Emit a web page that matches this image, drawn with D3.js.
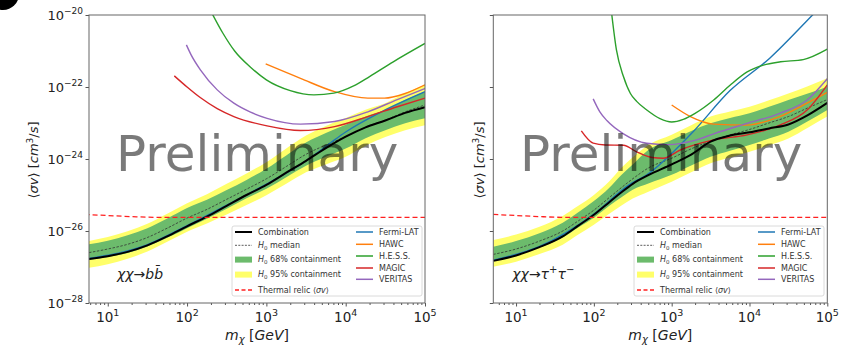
<!DOCTYPE html>
<html>
<head>
<meta charset="UTF-8">
<style>
  body { margin: 0; background: #fff; }
  text { font-family: "DejaVu Sans", sans-serif; }
</style>
</head>
<body>
<script src="https://d3js.org/d3.v7.min.js"></script>
<script>

// ---- data ----
// b bbar channel, common mass grid for the combination and the H0 bands
const bbMass = [5.8, 10, 17.8, 31.6, 56.2, 100, 178, 316, 562, 1000, 1780, 3160, 5620, 1e4, 1.78e4, 3.16e4, 5.62e4, 1e5];
const bbCombination = [1.66e-27, 2.0e-27, 2.63e-27, 3.98e-27, 7.08e-27, 1.35e-26, 2.51e-26, 5.01e-26, 1.0e-25, 1.91e-25, 4.17e-25, 8.91e-25, 2.0e-24, 4.17e-24, 7.59e-24, 1.17e-23, 1.91e-23, 2.75e-23];
const bbMedian = [2.51e-27, 3.16e-27, 4.27e-27, 6.61e-27, 1.2e-26, 2.29e-26, 3.98e-26, 7.59e-26, 1.45e-25, 2.82e-25, 6.17e-25, 1.35e-24, 2.45e-24, 4.17e-24, 7.59e-24, 1.2e-23, 2.04e-23, 3.16e-23];
const bb68Upper = [4.27e-27, 5.37e-27, 7.59e-27, 1.2e-26, 2.24e-26, 4.37e-26, 7.41e-26, 1.38e-25, 2.63e-25, 5.37e-25, 1.26e-24, 2.88e-24, 5.25e-24, 8.91e-24, 1.51e-23, 2.29e-23, 4.37e-23, 7.41e-23];
const bb68Lower = [1.58e-27, 1.91e-27, 2.45e-27, 3.72e-27, 6.46e-27, 1.2e-26, 2.19e-26, 4.17e-26, 8.13e-26, 1.48e-25, 3.09e-25, 6.46e-25, 1.15e-24, 1.95e-24, 3.8e-24, 6.31e-24, 9.77e-24, 1.35e-23];
const bb95Upper = [5.25e-27, 6.76e-27, 9.77e-27, 1.58e-26, 3.02e-26, 5.89e-26, 1.05e-25, 2.04e-25, 3.98e-25, 8.13e-25, 1.95e-24, 4.47e-24, 8.32e-24, 1.38e-23, 2.34e-23, 3.55e-23, 6.76e-23, 1.15e-22];
const bb95Lower = [9.55e-28, 1.2e-27, 1.7e-27, 2.69e-27, 5.01e-27, 9.55e-27, 1.62e-26, 2.88e-26, 5.25e-26, 9.77e-26, 2.04e-25, 4.27e-25, 7.08e-25, 1.15e-24, 2.34e-24, 4.07e-24, 6.31e-24, 8.71e-24];

const bbFermiMass = [5.8, 31.6, 100, 316, 1000, 3160, 6460, 1e4, 2.82e4, 1e5];
const bbFermi = [1.74e-27, 4.17e-27, 1.41e-26, 5.25e-26, 2.0e-25, 8.91e-25, 2.82e-24, 5.62e-24, 2.04e-23, 7.41e-23];
const bbHawcMass = [980, 2690, 7240, 1.9e4, 3.09e4, 5.62e4, 1e5];
const bbHawc = [4.37e-22, 1.74e-22, 7.41e-23, 4.9e-23, 4.9e-23, 6.61e-23, 1.15e-22];
const bbHessMass = [200, 282, 398, 631, 1000, 2000, 3980, 7080, 1.26e4, 2.0e4, 3.98e4, 1e5];
const bbHess = [1.26e-20, 3.16e-21, 1e-21, 3.55e-22, 1.58e-22, 7.94e-23, 6.03e-23, 6.76e-23, 1.07e-22, 1.95e-22, 5.01e-22, 1.62e-21];
const bbMagicMass = [69, 100, 148, 240, 389, 1020, 2690, 7240, 1.9e4, 4.47e4, 1e5];
const bbMagic = [2.04e-22, 1.0e-22, 5.01e-23, 2.51e-23, 1.51e-23, 8.32e-24, 6.17e-24, 7.94e-24, 1.51e-23, 2.82e-23, 4.9e-23];
const bbVeritasMass = [98, 112, 148, 240, 389, 631, 1020, 2690, 7240, 1.9e4, 4.47e4, 1e5];
const bbVeritas = [1.48e-21, 7.94e-22, 2.95e-22, 8.32e-23, 3.55e-23, 2.0e-23, 1.35e-23, 9.33e-24, 1.1e-23, 2.04e-23, 4.47e-23, 9.12e-23];

// tau+ tau- channel
const ttMass = [5.1, 10, 20, 39.8, 63.1, 100, 158, 224, 316, 501, 1000, 1780, 3160, 5620, 1e4, 1.78e4, 3.16e4, 5.62e4, 1e5];
const ttCombination = [1.48e-27, 2.09e-27, 3.55e-27, 7.08e-27, 1.41e-26, 2.82e-26, 6.31e-26, 1.17e-25, 2.04e-25, 3.55e-25, 7.08e-25, 1.32e-24, 3.02e-24, 4.47e-24, 5.5e-24, 7.08e-24, 9.12e-24, 1.66e-23, 3.63e-23];
const ttMedian = [2.24e-27, 3.16e-27, 5.25e-27, 1e-26, 1.91e-26, 3.8e-26, 8.51e-26, 1.58e-25, 2.82e-25, 5.62e-25, 1.05e-24, 1.91e-24, 3.16e-24, 4.68e-24, 6.61e-24, 1e-23, 1.51e-23, 2.63e-23, 4.47e-23];
const tt68Upper = [3.63e-27, 5.25e-27, 8.71e-27, 1.7e-26, 3.31e-26, 6.76e-26, 1.58e-25, 3.55e-25, 7.08e-25, 1.78e-24, 3.39e-24, 6.03e-24, 9.77e-24, 1.38e-23, 1.86e-23, 2.82e-23, 4.37e-23, 6.61e-23, 1.02e-22];
const tt68Lower = [1.58e-27, 2.19e-27, 3.47e-27, 6.61e-27, 1.26e-26, 2.34e-26, 5.01e-26, 8.51e-26, 1.41e-25, 2.09e-25, 3.63e-25, 6.61e-25, 1.15e-24, 1.7e-24, 2.45e-24, 3.72e-24, 5.75e-24, 1.12e-23, 2.29e-23];
const tt95Upper = [5.62e-27, 7.94e-27, 1.32e-26, 2.63e-26, 5.01e-26, 1.0e-25, 2.4e-25, 5.62e-25, 1.12e-24, 2.45e-24, 4.68e-24, 8.71e-24, 1.51e-23, 2.09e-23, 2.82e-23, 4.27e-23, 6.61e-23, 1.05e-22, 1.74e-22];
const tt95Lower = [1.02e-27, 1.41e-27, 2.29e-27, 4.17e-27, 7.94e-27, 1.48e-26, 3.02e-26, 5.01e-26, 7.94e-26, 1.23e-25, 2.34e-25, 4.27e-25, 7.59e-25, 1.1e-24, 1.58e-24, 2.4e-24, 3.72e-24, 7.41e-24, 1.51e-23];

const ttFermiMass = [5.1, 20, 100, 282, 479, 1780, 5620, 1.82e4, 6.46e4, 7.94e4];
const ttFermi = [1.55e-27, 3.72e-27, 2.95e-26, 1.91e-25, 3.63e-25, 5.01e-24, 7.94e-23, 6.31e-22, 1e-20, 1.58e-20];
const ttHawcMass = [1000, 1740, 3470, 9330, 2.45e4, 5.5e4, 1e5];
const ttHawc = [3.16e-23, 1.51e-23, 9.33e-24, 8.71e-24, 1.51e-23, 3.55e-23, 7.08e-23];
const ttHessMass = [166, 195, 240, 295, 355, 479, 708, 1000, 1410, 2000, 3470, 5620, 9330, 1.51e4, 2.51e4, 4.9e4, 1e5];
const ttHess = [1.58e-20, 1.07e-21, 1.95e-22, 6.61e-23, 3.98e-23, 2.29e-23, 1.32e-23, 1.07e-23, 1.26e-23, 1.86e-23, 4.37e-23, 1.12e-22, 2.63e-22, 4.07e-22, 5.01e-22, 5.75e-22, 1.12e-21];
const ttMagicMass = [69, 98, 141, 240, 355, 562, 776, 1290, 3470, 9330, 2.45e4, 5.5e4, 1e5];
const ttMagic = [6.03e-24, 2.75e-24, 2.45e-24, 2.4e-24, 1.58e-24, 1.1e-24, 1.05e-24, 1.78e-24, 3.39e-24, 4.68e-24, 8.71e-24, 2.29e-23, 1.15e-22];
const ttVeritasMass = [98, 120, 148, 240, 479, 891, 2090, 3470, 9330, 2.45e4, 5.5e4, 1e5];
const ttVeritas = [4.68e-23, 2.0e-23, 1.15e-23, 5.01e-24, 2.75e-24, 2.51e-24, 3.39e-24, 5.01e-24, 9.77e-24, 1.86e-23, 4.37e-23, 1.7e-22];

// thermal relic cross section (same in both panels)
const relicMass = [5.1, 10, 20, 40, 1e5];
const relicSigmaV = [2.88e-26, 2.69e-26, 2.51e-26, 2.4e-26, 2.4e-26];

const xTickValues = [1e1, 1e2, 1e3, 1e4, 1e5];
const xTickExp = ["1", "2", "3", "4", "5"];
const yTickValues = [1e-28, 1e-26, 1e-24, 1e-22, 1e-20];
const yTickExp = ["\u221228", "\u221226", "\u221224", "\u221222", "\u221220"];

const experimentNames = ["Fermi-LAT", "HAWC", "H.E.S.S.", "MAGIC", "VERITAS"];
const experimentColors = ["#1f77b4", "#ff7f0e", "#2ca02c", "#d62728", "#9467bd"];

const yellowBand = "#ffff6a";
const greenBand = "#6cbb6c";

// ---- drawing ----
let width = 858, height = 349;
let svg = d3.select("body").append("svg")
    .attr("width", width)
    .attr("height", height);

// stray mark in the top-left corner of the source image
svg.append("circle").attr("cx", 3).attr("cy", -6).attr("r", 16).attr("fill", "#000");

let panels = [
  { id: "bb", left: 89, right: 425, xMin: 5.8, yLabels: true, legendX: 232, prelimX: 116,
    mass: bbMass, comb: bbCombination, median: bbMedian,
    up68: bb68Upper, lo68: bb68Lower, up95: bb95Upper, lo95: bb95Lower,
    exps: [[bbFermiMass, bbFermi], [bbHawcMass, bbHawc], [bbHessMass, bbHess], [bbMagicMass, bbMagic], [bbVeritasMass, bbVeritas]] },
  { id: "tt", left: 493.3, right: 827.3, xMin: 5.1, yLabels: false, legendX: 634, prelimX: 520,
    mass: ttMass, comb: ttCombination, median: ttMedian,
    up68: tt68Upper, lo68: tt68Lower, up95: tt95Upper, lo95: tt95Lower,
    exps: [[ttFermiMass, ttFermi], [ttHawcMass, ttHawc], [ttHessMass, ttHess], [ttMagicMass, ttMagic], [ttVeritasMass, ttVeritas]] }
];

const plotTop = 15, plotBottom = 303;

panels.forEach(p => {
  let x = d3.scaleLog().domain([p.xMin, 1e5]).range([p.left, p.right]);
  let y = d3.scaleLog().domain([1e-28, 1e-20]).range([plotBottom, plotTop]);

  svg.append("clipPath").attr("id", "clip-" + p.id)
    .append("rect")
    .attr("x", p.left).attr("y", plotTop)
    .attr("width", p.right - p.left).attr("height", plotBottom - plotTop);

  let g = svg.append("g").attr("clip-path", "url(#clip-" + p.id + ")");

  let idx = d3.range(p.mass.length);
  let band = (lo, up) => d3.area()
      .x(i => x(p.mass[i]))
      .y0(i => y(lo[i]))
      .y1(i => y(up[i]))
      .curve(d3.curveMonotoneX);
  let line = (ms, vs) => d3.line()
      .x(i => x(ms[i]))
      .y(i => y(vs[i]))
      .curve(d3.curveMonotoneX)(d3.range(ms.length));

  g.append("path").attr("d", band(p.lo95, p.up95)(idx)).attr("fill", yellowBand);
  g.append("path").attr("d", band(p.lo68, p.up68)(idx)).attr("fill", greenBand);

  g.append("path").attr("d", line(p.mass, p.median))
    .attr("fill", "none").attr("stroke", "#333").attr("stroke-width", 0.8)
    .attr("stroke-dasharray", "2.5,1.5");

  p.exps.forEach((e, k) => {
    g.append("path").attr("d", line(e[0], e[1]))
      .attr("fill", "none")
      .attr("stroke", experimentColors[k])
      .attr("stroke-width", 1.4);
  });

  g.append("path").attr("d", line(p.mass, p.comb))
    .attr("fill", "none").attr("stroke", "#000").attr("stroke-width", 2);

  g.append("path").attr("d", line(relicMass, relicSigmaV))
    .attr("fill", "none").attr("stroke", "#ff2020").attr("stroke-width", 1.3)
    .attr("stroke-dasharray", "5,3");

  // axes
  let minor = [];
  for (let d = 0; d < 5; d++) {
    for (let k = 2; k < 10; k++) {
      let v = k * Math.pow(10, d);
      if (v >= p.xMin && v <= 1e5) minor.push(v);
    }
  }
  svg.append("g").attr("transform", "translate(0," + plotBottom + ")")
    .call(d3.axisBottom(x).tickValues(minor).tickSize(2).tickFormat(""))
    .call(a => a.select(".domain").remove())
    .call(a => a.selectAll("line").attr("stroke", "#555"));
  svg.append("g").attr("transform", "translate(0," + plotBottom + ")")
    .call(d3.axisBottom(x).tickValues(xTickValues).tickSize(3.5).tickFormat(""))
    .call(a => a.select(".domain").remove())
    .call(a => a.selectAll("line").attr("stroke", "#555"));
  svg.append("g").attr("transform", "translate(" + p.left + ",0)")
    .call(d3.axisLeft(y).tickValues(yTickValues).tickSize(3.5).tickFormat(""))
    .call(a => a.select(".domain").remove())
    .call(a => a.selectAll("line").attr("stroke", "#555"));

  svg.append("rect")
    .attr("x", p.left).attr("y", plotTop)
    .attr("width", p.right - p.left).attr("height", plotBottom - plotTop)
    .attr("fill", "none").attr("stroke", "#666").attr("stroke-width", 1);

  xTickValues.forEach((v, i) => {
    let t = svg.append("text")
      .attr("x", x(v)).attr("y", 322)
      .attr("text-anchor", "middle")
      .attr("font-size", 13.5).attr("fill", "#222");
    t.append("tspan").text("10");
    t.append("tspan").attr("dy", -6).attr("font-size", 9.5).text(xTickExp[i]);
  });

  if (p.yLabels) {
    yTickValues.forEach((v, i) => {
      let t = svg.append("text")
        .attr("x", p.left - 6).attr("y", y(v) + 5)
        .attr("text-anchor", "end")
        .attr("font-size", 13).attr("fill", "#222");
      t.append("tspan").text("10");
      t.append("tspan").attr("dy", -6).attr("font-size", 9).text(yTickExp[i]);
    });
  }

  // y label
  let yl = svg.append("text")
    .attr("transform", "translate(" + (p.left - (p.yLabels ? 51 : 9)) + "," + 160 + ") rotate(-90)")
    .attr("text-anchor", "middle")
    .attr("font-size", 13).attr("fill", "#222");
  yl.append("tspan").text("\u27e8");
  yl.append("tspan").attr("font-style", "italic").text("\u03c3v");
  yl.append("tspan").text("\u27e9 [");
  yl.append("tspan").attr("font-style", "italic").text("cm");
  yl.append("tspan").attr("dy", -5).attr("font-size", 9).text("3");
  yl.append("tspan").attr("dy", 5).text("/");
  yl.append("tspan").attr("font-style", "italic").text("s");
  yl.append("tspan").text("]");

  // x label
  let xl = svg.append("text")
    .attr("x", (p.left + p.right) / 2).attr("y", 340)
    .attr("text-anchor", "middle")
    .attr("font-size", 14).attr("fill", "#222");
  xl.append("tspan").attr("font-style", "italic").text("m");
  xl.append("tspan").attr("dy", 3).attr("font-size", 10).attr("font-style", "italic").text("\u03c7");
  xl.append("tspan").attr("dy", -3).text(" [");
  xl.append("tspan").attr("font-style", "italic").text("GeV");
  xl.append("tspan").text("]");

  // channel annotation
  let ch = svg.append("text")
    .attr("x", p.left + (p.id === "bb" ? 28 : 19)).attr("y", 279)
    .attr("font-size", 14).attr("fill", "#222");
  if (p.id === "bb") {
    ch.append("tspan").attr("font-style", "italic").text("\u03c7\u03c7");
    ch.append("tspan").text("\u2192");
    ch.append("tspan").attr("font-style", "italic").text("bb\u0304");
  } else {
    ch.append("tspan").attr("font-style", "italic").text("\u03c7\u03c7");
    ch.append("tspan").text("\u2192");
    ch.append("tspan").attr("font-style", "italic").text("\u03c4");
    ch.append("tspan").attr("dy", -6).attr("font-size", 10).text("+");
    ch.append("tspan").attr("dy", 6).attr("font-style", "italic").text("\u03c4");
    ch.append("tspan").attr("dy", -6).attr("font-size", 10).text("\u2212");
  }

  // legend
  let lx = p.legendX, ly = 226;
  let lg = svg.append("g").attr("transform", "translate(" + lx + "," + ly + ")");
  lg.append("rect").attr("x", 0).attr("y", 0).attr("width", 190).attr("height", 70)
    .attr("rx", 2).attr("fill", "#fff").attr("fill-opacity", 0.85)
    .attr("stroke", "#d0d0d0").attr("stroke-width", 0.8);

  let rows1 = [6, 19.3, 33.6, 48.6, 64];
  lg.append("line").attr("x1", 3).attr("x2", 20).attr("y1", rows1[0]).attr("y2", rows1[0])
    .attr("stroke", "#000").attr("stroke-width", 2);
  lg.append("line").attr("x1", 3).attr("x2", 20).attr("y1", rows1[1]).attr("y2", rows1[1])
    .attr("stroke", "#333").attr("stroke-width", 0.8).attr("stroke-dasharray", "2,1.3");
  lg.append("rect").attr("x", 3).attr("y", rows1[2] - 3).attr("width", 17).attr("height", 6)
    .attr("fill", greenBand);
  lg.append("rect").attr("x", 3).attr("y", rows1[3] - 3).attr("width", 17).attr("height", 6)
    .attr("fill", yellowBand);
  lg.append("line").attr("x1", 3).attr("x2", 20).attr("y1", rows1[4]).attr("y2", rows1[4])
    .attr("stroke", "#ff2020").attr("stroke-width", 1.3).attr("stroke-dasharray", "4,2.5");

  let txt = (yy, xx) => lg.append("text").attr("x", xx).attr("y", yy + 2.8)
      .attr("font-size", 8).attr("fill", "#333");
  txt(rows1[0], 26).text("Combination");
  [[rows1[1], " median"], [rows1[2], " 68% containment"], [rows1[3], " 95% containment"]].forEach(r => {
    let t = txt(r[0], 26);
    t.append("tspan").attr("font-style", "italic").text("H");
    t.append("tspan").attr("font-size", 5.5).attr("dy", 1.5).text("0");
    t.append("tspan").attr("dy", -1.5).text(r[1]);
  });
  let tr = txt(rows1[4], 26);
  tr.append("tspan").text("Thermal relic \u27e8");
  tr.append("tspan").attr("font-style", "italic").text("\u03c3v");
  tr.append("tspan").text("\u27e9");

  let rows2 = [6, 18.3, 30, 42, 53.3];
  experimentNames.forEach((n, k) => {
    lg.append("line").attr("x1", 124).attr("x2", 141).attr("y1", rows2[k]).attr("y2", rows2[k])
      .attr("stroke", experimentColors[k]).attr("stroke-width", 1.5);
    txt(rows2[k], 147).text(n);
  });

  // watermark
  svg.append("text")
    .attr("x", p.prelimX).attr("y", 171)
    .attr("font-size", 50)
    .attr("fill", "#000").attr("fill-opacity", 0.52)
    .text("Preliminary");
});

</script>
</body>
</html>
